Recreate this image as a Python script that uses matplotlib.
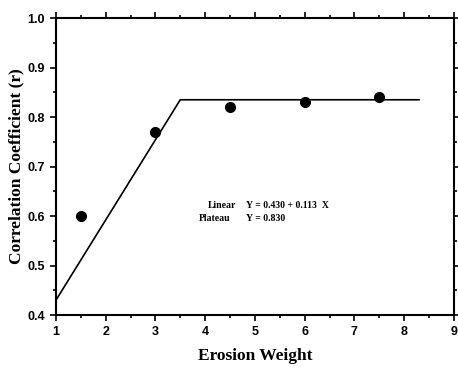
import matplotlib.pyplot as plt
from matplotlib.ticker import MultipleLocator

# observed points
erosion_weight = [1.5, 3.0, 4.5, 6.0, 7.5]
correlation = [0.60, 0.77, 0.82, 0.83, 0.84]

# fitted linear-plateau model (breakpoints)
fit_x = [1.0, 3.5, 8.3]
fit_y = [0.43, 0.835, 0.835]

fig = plt.figure(figsize=(4.58, 3.69), dpi=100)
ax = fig.add_axes([0.122, 0.146, 0.869, 0.805])

ax.plot(fit_x, fit_y, color="black", lw=1.2)
ax.plot(erosion_weight, correlation, "o", color="black", ms=7)

ax.set_xlim(1, 9)
ax.set_ylim(0.4, 1.0)
ax.xaxis.set_major_locator(MultipleLocator(1))
ax.xaxis.set_minor_locator(MultipleLocator(0.5))
ax.yaxis.set_major_locator(MultipleLocator(0.1))
ax.yaxis.set_minor_locator(MultipleLocator(0.05))
ax.yaxis.set_major_formatter(plt.FuncFormatter(lambda v, p: f"{v:.1f}"))

ax.tick_params(which="both", direction="out", top=True, right=True,
               labeltop=False, labelright=False, width=1.2)
ax.tick_params(which="major", length=4, pad=4)
ax.tick_params(which="minor", length=2.5)
for lab in ax.get_xticklabels() + ax.get_yticklabels():
    lab.set_fontfamily("Liberation Sans")
    lab.set_fontweight("bold")
    lab.set_fontsize(9)
for s in ax.spines.values():
    s.set_linewidth(1.5)

serif = "Liberation Serif"
ax.set_xlabel("Erosion Weight", family=serif, weight="bold", fontsize=12.5, labelpad=7)
ax.set_ylabel("Correlation Coefficient (r)", family=serif, weight="bold", fontsize=12.5, labelpad=2)

txt = dict(family=serif, weight="bold", fontsize=7, va="center")
ax.text(4.05, 0.622, "Linear", **txt)
ax.text(4.83, 0.622, "Y = 0.430 + 0.113  X", **txt)
ax.text(3.87, 0.596, "Plateau", **txt)
ax.text(4.83, 0.596, "Y = 0.830", **txt)

fig.savefig("out.png", dpi=100)
